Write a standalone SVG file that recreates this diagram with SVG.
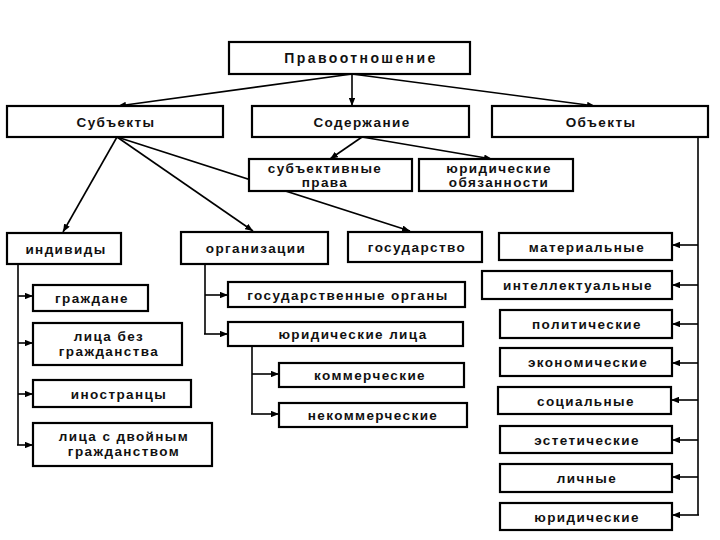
<svg xmlns="http://www.w3.org/2000/svg" width="720" height="540" viewBox="0 0 720 540">
  <style>
    .bg { fill: #ffffff; }
    .box { fill: #ffffff; stroke: #000000; stroke-width: 2.2; }
    .lbl { font-family: "Liberation Sans", Arial, sans-serif; font-size: 13.5px; font-weight: bold; fill: #111111; text-anchor: middle; letter-spacing: 1.4px; }
    .title { font-size: 14px; letter-spacing: 2.4px; }
    .ln { fill: none; stroke: #000000; stroke-width: 1.6; }
  </style>
  <defs>
    <marker id="arr" viewBox="0 0 10 8" refX="10" refY="4" markerWidth="8" markerHeight="6.4" markerUnits="userSpaceOnUse" orient="auto">
      <path d="M0,0 L10,4 L0,8 z" fill="#000000"/>
    </marker>
  </defs>
  <rect class="bg" x="0" y="0" width="720" height="540"/>

  <g id="connectors">
    <line class="ln" x1="352" y1="74" x2="352" y2="106" marker-end="url(#arr)"/>
    <line class="ln" x1="352" y1="74" x2="118" y2="106" marker-end="url(#arr)"/>
    <line class="ln" x1="352" y1="74" x2="595" y2="106" marker-end="url(#arr)"/>
    <line class="ln" x1="362" y1="137" x2="330" y2="159" marker-end="url(#arr)"/>
    <line class="ln" x1="362" y1="137" x2="492" y2="159" marker-end="url(#arr)"/>
    <line class="ln" x1="117" y1="137" x2="63" y2="232" marker-end="url(#arr)"/>
    <line class="ln" x1="117" y1="137" x2="253" y2="231" marker-end="url(#arr)"/>
    <line class="ln" x1="117" y1="137" x2="410" y2="231" marker-end="url(#arr)"/>

    <path class="ln" d="M18,264 V445"/>
    <line class="ln" x1="18" y1="296" x2="33" y2="296" marker-end="url(#arr)"/>
    <line class="ln" x1="18" y1="343" x2="33" y2="343" marker-end="url(#arr)"/>
    <line class="ln" x1="18" y1="394" x2="33" y2="394" marker-end="url(#arr)"/>
    <line class="ln" x1="17" y1="445" x2="33" y2="445" marker-end="url(#arr)"/>

    <path class="ln" d="M205,264 V334"/>
    <line class="ln" x1="205" y1="295" x2="228" y2="295" marker-end="url(#arr)"/>
    <line class="ln" x1="204" y1="334" x2="228" y2="334" marker-end="url(#arr)"/>

    <path class="ln" d="M252,346 V414"/>
    <line class="ln" x1="252" y1="374" x2="279" y2="374" marker-end="url(#arr)"/>
    <line class="ln" x1="251" y1="414" x2="279" y2="414" marker-end="url(#arr)"/>

    <path class="ln" d="M698,137 V515"/>
    <line class="ln" x1="698" y1="245" x2="672" y2="245" marker-end="url(#arr)"/>
    <line class="ln" x1="698" y1="285" x2="672" y2="285" marker-end="url(#arr)"/>
    <line class="ln" x1="698" y1="324" x2="672" y2="324" marker-end="url(#arr)"/>
    <line class="ln" x1="698" y1="363" x2="672" y2="363" marker-end="url(#arr)"/>
    <line class="ln" x1="698" y1="400" x2="671" y2="400" marker-end="url(#arr)"/>
    <line class="ln" x1="698" y1="440" x2="672" y2="440" marker-end="url(#arr)"/>
    <line class="ln" x1="698" y1="477" x2="672" y2="477" marker-end="url(#arr)"/>
    <line class="ln" x1="699" y1="515" x2="672" y2="515" marker-end="url(#arr)"/>
  </g>

  <g id="pravootnoshenie"><rect class="box" x="229" y="42" width="241" height="32"/><text class="lbl title" x="361" y="63">Правоотношение</text></g>
  <g id="subekty"><rect class="box" x="7" y="106" width="216" height="31"/><text class="lbl" x="116" y="126.5">Субъекты</text></g>
  <g id="soderzhanie"><rect class="box" x="252" y="106" width="217" height="31"/><text class="lbl" x="362" y="126.5">Содержание</text></g>
  <g id="obekty"><rect class="box" x="492" y="106" width="216" height="31"/><text class="lbl" x="601" y="126.5">Объекты</text></g>

  <g id="subektivnye-prava"><rect class="box" x="249" y="159" width="163" height="32"/><text class="lbl" x="325" y="172.5">субъективные</text><text class="lbl" x="325" y="187">права</text></g>
  <g id="yuridicheskie-obyazannosti"><rect class="box" x="419" y="159" width="154" height="32"/><text class="lbl" x="499" y="172.5">юридические</text><text class="lbl" x="499" y="187">обязанности</text></g>

  <g id="individy"><rect class="box" x="7" y="233" width="114" height="31"/><text class="lbl" x="66" y="253.5">индивиды</text></g>
  <g id="organizatsii"><rect class="box" x="181" y="232" width="147" height="32"/><text class="lbl" x="256" y="252.5">организации</text></g>
  <g id="gosudarstvo"><rect class="box" x="348" y="232" width="134" height="30"/><text class="lbl" x="417" y="251.5">государство</text></g>

  <g id="grazhdane"><rect class="box" x="33" y="285" width="115" height="26"/><text class="lbl" x="92" y="302.5">граждане</text></g>
  <g id="litsa-bez"><rect class="box" x="33" y="323" width="149" height="42"/><text class="lbl" x="109" y="340.5">лица без</text><text class="lbl" x="109" y="355.5">гражданства</text></g>
  <g id="inostrantsy"><rect class="box" x="33" y="380" width="158" height="27"/><text class="lbl" x="119" y="398.5">иностранцы</text></g>
  <g id="litsa-dvoinoe"><rect class="box" x="33" y="423" width="179" height="43"/><text class="lbl" x="124" y="440.5">лица с двойным</text><text class="lbl" x="124" y="455.5">гражданством</text></g>

  <g id="gos-organy"><rect class="box" x="228" y="282" width="237" height="25"/><text class="lbl" x="348" y="299.5">государственные органы</text></g>
  <g id="yur-litsa"><rect class="box" x="228" y="322" width="235" height="24"/><text class="lbl" x="353" y="339">юридические лица</text></g>
  <g id="kommercheskie"><rect class="box" x="279" y="363" width="185" height="24"/><text class="lbl" x="370" y="380">коммерческие</text></g>
  <g id="nekommercheskie"><rect class="box" x="279" y="403" width="188" height="24"/><text class="lbl" x="373" y="420">некоммерческие</text></g>

  <g id="materialnye"><rect class="box" x="499" y="233" width="173" height="27"/><text class="lbl" x="587" y="251.5">материальные</text></g>
  <g id="intellektualnye"><rect class="box" x="482" y="271" width="190" height="28"/><text class="lbl" x="578" y="290">интеллектуальные</text></g>
  <g id="politicheskie"><rect class="box" x="500" y="310" width="172" height="28"/><text class="lbl" x="587" y="329">политические</text></g>
  <g id="ekonomicheskie"><rect class="box" x="500" y="348" width="172" height="28"/><text class="lbl" x="588" y="367">экономические</text></g>
  <g id="sotsialnye"><rect class="box" x="498" y="387" width="173" height="27"/><text class="lbl" x="586" y="405.5">социальные</text></g>
  <g id="esteticheskie"><rect class="box" x="500" y="426" width="172" height="27"/><text class="lbl" x="587" y="444.5">эстетические</text></g>
  <g id="lichnye"><rect class="box" x="500" y="464" width="172" height="28"/><text class="lbl" x="587" y="483">личные</text></g>
  <g id="yuridicheskie"><rect class="box" x="500" y="503" width="172" height="27"/><text class="lbl" x="587" y="521.5">юридические</text></g>
</svg>
